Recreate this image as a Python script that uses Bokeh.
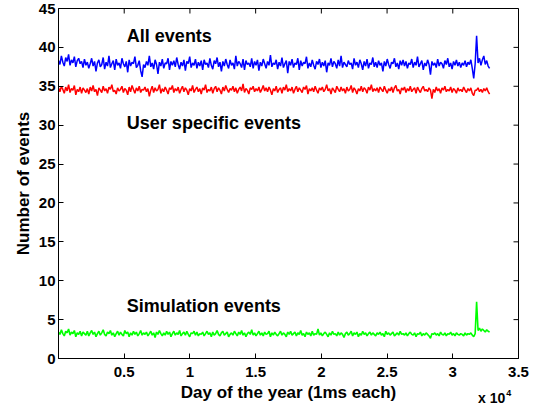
import numpy as np
from bokeh.plotting import figure
from bokeh.models import FixedTicker, Label, Range1d, Div
from bokeh.layouts import column
from bokeh.embed import file_html
from bokeh.resources import INLINE

# ---- data ----
n_samples = 300
last_ms = 32800

all_events = [
    38.3, 37.8, 38.9, 38.1, 37.6, 38.7, 38.2, 39.1, 37.7, 38.4, 38.0, 38.8, 37.5, 38.3, 38.6, 37.9, 38.2, 37.4, 38.5, 37.7,
    38.1, 37.3, 37.9, 38.6, 37.6, 38.2, 36.9, 38.0, 38.4, 37.5, 37.8, 38.7, 37.2, 38.1, 37.6, 38.9, 37.4, 37.9, 38.3, 37.1,
    38.5, 37.7, 38.0, 37.3, 38.6, 37.9, 37.5, 38.2, 36.8, 38.4, 37.6, 38.1, 37.9, 38.8, 37.4, 37.7, 38.3, 37.0, 36.2, 37.8,
    37.4, 38.2, 37.7, 38.9, 37.5, 38.0, 37.2, 38.4, 37.8, 36.6, 38.1, 37.6, 38.5, 37.3, 38.0, 37.9, 38.6, 37.1, 38.2, 37.7,
    38.3, 37.5, 38.7, 37.8, 37.2, 38.1, 37.6, 38.4, 37.0, 38.2, 37.9, 38.8, 37.4, 38.0, 37.7, 38.5, 37.3, 38.1, 37.6, 38.3,
    37.1, 38.4, 37.8, 38.0, 37.4, 38.6, 37.7, 37.2, 38.3, 37.9, 38.7, 37.5, 38.1, 36.9, 38.2, 37.6, 38.5, 37.8, 37.3, 38.4,
    37.7, 38.0, 37.2, 38.9, 37.6, 38.2, 37.9, 37.4, 38.5, 37.1, 38.3, 37.8, 38.0, 37.5, 38.6, 37.3, 38.2, 37.7, 38.4, 37.0,
    38.1, 37.6, 38.5, 37.9, 37.3, 38.2, 37.7, 39.0, 37.5, 38.0, 37.8, 38.4, 37.2, 38.1, 37.6, 38.7, 37.4, 37.9, 38.3, 36.7,
    38.2, 37.7, 38.5, 37.4, 38.0, 37.8, 38.6, 37.1, 38.3, 37.6, 38.1, 37.9, 38.8, 37.3, 38.0, 37.5, 38.4, 37.7, 37.2, 38.2,
    37.8, 38.5, 37.4, 38.1, 37.6, 38.3, 36.8, 38.0, 37.7, 38.6, 37.5, 38.2, 37.9, 37.3, 38.4, 37.6, 38.9, 37.4, 38.1, 37.8,
    37.5, 38.3, 37.8, 38.0, 37.2, 38.6, 37.7, 38.1, 37.4, 38.4, 37.9, 37.1, 38.2, 37.6, 38.5, 37.3, 38.0, 37.8, 38.7, 37.5,
    38.1, 37.4, 38.3, 37.7, 38.0, 36.9, 38.2, 37.6, 38.5, 37.8, 37.3, 38.1, 37.9, 38.6, 37.5, 38.0, 37.2, 38.3, 37.7, 38.4,
    37.6, 38.2, 37.3, 38.0, 37.8, 38.5, 37.4, 38.1, 37.7, 38.8, 37.5, 37.9, 38.3, 37.1, 38.0, 37.6, 38.4, 37.8, 36.5, 38.2,
    37.7, 38.0, 37.4, 38.5, 37.6, 38.1, 37.9, 37.3, 38.3, 37.8, 38.6, 37.5, 38.0, 37.2, 38.2, 37.7, 38.4, 37.6, 38.1, 37.4,
    38.0, 37.7, 38.3, 37.5, 38.1, 37.8, 38.4, 37.3, 36.0, 37.9, 41.5, 38.0, 38.6, 37.7, 38.4, 38.9, 37.8, 38.3, 37.6, 37.3,
]

user_events = [
    34.8, 34.3, 35.0, 34.6, 34.1, 34.9, 34.4, 35.2, 34.2, 34.7, 34.5, 35.1, 33.9, 34.6, 34.3, 34.9, 34.1, 34.8, 34.5, 34.2,
    34.7, 34.0, 34.9, 34.4, 35.1, 34.3, 34.6, 33.8, 34.8, 34.5, 34.2, 35.0, 34.4, 34.7, 34.1, 34.9, 34.6, 35.2, 34.3, 34.5,
    34.0, 34.8, 34.4, 34.6, 35.0, 34.2, 34.7, 34.5, 33.9, 34.9, 34.3, 35.1, 34.6, 34.1, 34.8, 34.4, 35.0, 34.2, 34.6, 34.5,
    34.9, 34.3, 34.7, 33.7, 34.5, 35.0, 34.2, 34.8, 34.4, 34.6, 35.2, 34.1, 34.7, 34.3, 34.9, 34.5, 34.0, 34.8, 34.6, 35.1,
    34.2, 34.7, 34.4, 34.9, 34.1, 34.6, 35.0, 34.3, 34.8, 34.5, 33.9, 34.7, 34.4, 35.1, 34.2, 34.6, 34.9, 34.3, 34.7, 34.0,
    34.8, 34.5, 35.2, 34.2, 34.6, 34.4, 34.9, 34.1, 34.7, 35.0, 34.3, 34.8, 34.5, 34.0, 34.9, 34.4, 35.1, 34.6, 34.2, 34.7,
    34.5, 35.0, 34.3, 34.8, 34.1, 34.6, 34.9, 34.4, 35.3, 34.2, 34.7, 34.5, 34.0, 34.8, 34.6, 35.0, 34.3, 34.7, 34.4, 34.9,
    34.2, 34.6, 35.1, 34.4, 34.8, 34.3, 34.9, 34.5, 33.9, 34.7, 34.4, 35.0, 34.2, 34.6, 34.8, 34.1, 34.9, 34.5, 35.2, 34.3,
    34.7, 34.4, 34.9, 34.1, 34.6, 35.0, 34.3, 34.8, 34.5, 34.2, 34.9, 34.6, 35.1, 34.0, 34.7, 34.4, 34.8, 34.3, 35.0, 34.5,
    34.1, 34.8, 34.5, 34.9, 34.3, 34.6, 35.2, 34.4, 34.7, 34.0, 34.8, 34.5, 34.2, 35.0, 34.6, 34.3, 34.9, 34.4, 34.7, 34.1,
    34.9, 34.4, 34.6, 35.1, 34.2, 34.8, 34.5, 34.0, 34.7, 34.4, 35.0, 34.3, 34.8, 34.6, 34.1, 34.9, 34.5, 35.2, 34.3, 34.7,
    34.4, 34.8, 34.2, 34.9, 34.6, 34.3, 35.0, 34.5, 34.1, 34.7, 34.4, 34.9, 34.2, 34.8, 35.1, 34.4, 34.6, 34.0, 34.8, 34.5,
    34.9, 34.2, 34.7, 34.4, 35.0, 34.3, 34.6, 34.8, 34.1, 34.9, 34.5, 34.2, 34.7, 35.0, 34.4, 34.6, 34.3, 34.8, 34.5, 33.4,
    34.6, 34.2, 34.9, 34.4, 34.7, 34.1, 34.8, 34.5, 35.0, 34.3, 34.6, 34.4, 34.9, 34.2, 34.7, 34.5, 34.1, 34.8, 34.4, 34.6,
    34.3, 34.9, 34.5, 34.2, 34.7, 34.4, 34.8, 34.1, 33.8, 34.5, 34.5, 34.8, 34.3, 34.6, 34.2, 34.7, 34.4, 34.8, 34.3, 34.0,
]

sim_events = [
    3.4, 3.1, 3.7, 3.2, 2.9, 3.5, 3.3, 3.8, 3.0, 3.4, 3.2, 3.6, 2.8, 3.3, 3.1, 3.5, 2.9, 3.4, 3.2, 3.0,
    3.5, 2.9, 3.3, 3.6, 3.1, 3.4, 2.8, 3.2, 3.5, 3.0, 3.3, 3.7, 3.1, 2.9, 3.4, 3.2, 3.6, 3.0, 3.3, 2.8,
    3.2, 3.5, 3.0, 3.4, 3.1, 2.9, 3.6, 3.2, 3.4, 2.8, 3.3, 3.0, 3.5, 3.1, 3.4, 2.9, 3.2, 3.6, 3.0, 3.3,
    3.1, 3.4, 2.9, 3.2, 3.5, 3.0, 3.3, 2.7, 3.4, 3.1, 3.6, 3.2, 2.9, 3.3, 3.0, 3.5, 3.1, 3.4, 2.8, 3.2,
    3.5, 3.0, 3.3, 3.1, 3.6, 2.9, 3.2, 3.4, 3.0, 3.5, 3.1, 2.8, 3.3, 3.2, 3.5, 3.0, 3.4, 2.9, 3.2, 3.1,
    3.4, 2.9, 3.2, 3.5, 3.1, 3.3, 2.8, 3.4, 3.0, 3.2, 3.6, 3.1, 2.9, 3.3, 3.5, 3.0, 3.2, 3.4, 2.8, 3.1,
    3.3, 3.0, 3.5, 3.2, 2.9, 3.4, 3.1, 3.6, 3.0, 3.3, 2.8, 3.2, 3.4, 3.1, 3.7, 3.0, 3.3, 2.9, 3.2, 3.5,
    3.0, 3.3, 2.9, 3.4, 3.1, 3.2, 3.5, 2.8, 3.3, 3.0, 3.4, 3.1, 2.9, 3.2, 3.5, 3.0, 3.3, 3.1, 2.8, 3.4,
    3.1, 3.5, 3.0, 3.2, 3.4, 2.9, 3.3, 3.1, 3.6, 3.0, 3.2, 2.8, 3.4, 3.1, 3.3, 2.9, 3.5, 3.0, 3.2, 3.1,
    3.8, 3.0, 3.3, 2.9, 3.2, 3.4, 3.1, 2.8, 3.3, 3.0, 3.5, 3.1, 3.2, 2.9, 3.4, 3.0, 3.3, 3.1, 2.7, 3.2,
    3.4, 3.0, 3.2, 3.5, 2.9, 3.3, 3.1, 3.4, 2.8, 3.2, 3.0, 3.5, 3.1, 3.3, 2.9, 3.2, 3.4, 3.0, 3.3, 3.1,
    2.9, 3.3, 3.1, 3.4, 3.0, 3.2, 2.8, 3.5, 3.1, 3.3, 3.0, 3.2, 3.4, 2.9, 3.1, 3.3, 3.0, 3.5, 3.1, 3.2,
    3.0, 3.3, 2.9, 3.2, 3.4, 3.1, 3.0, 3.3, 2.8, 3.2, 3.1, 3.4, 2.9, 3.2, 3.0, 3.3, 3.1, 2.9, 2.6, 3.2,
    3.1, 3.3, 3.0, 3.2, 2.9, 3.4, 3.1, 3.0, 3.3, 2.9, 3.2, 3.1, 3.4, 3.0, 3.2, 2.9, 3.3, 3.1, 3.0, 3.2,
    3.1, 2.9, 3.3, 3.0, 3.2, 3.1, 3.3, 3.0, 2.8, 3.2, 7.3, 3.6, 3.9, 3.5, 3.8, 3.6, 3.4, 3.7, 3.5, 3.4,
]

x_max = 35000
y_max = 45
x_ticks = [5000, 10000, 15000, 20000, 25000, 30000, 35000]
x_tick_labels = ["0.5", "1", "1.5", "2", "2.5", "3", "3.5"]
y_ticks = [0, 5, 10, 15, 20, 25, 30, 35, 40, 45]
x_exponent = "4"

series_labels = ["All events", "User specific events", "Simulation events"]
label_x = [5200, 5200, 5200]
label_y = [41.5, 30.3, 6.7]

x = np.linspace(0, last_ms, n_samples)

FONT = "Liberation Sans"

p = figure(width=535, height=409, output_backend="svg", toolbar_location=None,
           x_range=Range1d(0, x_max), y_range=Range1d(0, y_max),
           min_border_left=58, min_border_right=17, min_border_top=8, min_border_bottom=51)
p.background_fill_color = "white"
p.border_fill_color = "white"
p.outline_line_color = "black"
p.outline_line_width = 1
p.outline_line_alpha = 1
p.xgrid.visible = False
p.ygrid.visible = False

p.line(x, all_events, line_color="#0000FF", line_width=1.5)
p.line(x, user_events, line_color="#FF0000", line_width=1.5)
p.line(x, sim_events, line_color="#00FF00", line_width=1.6)

# inward tick marks on the top and right edges of the box
tick_len_x = 5 / 460 * x_max   # 5 px in data units
tick_len_y = 5 / 350 * y_max
p.segment(x0=x_ticks, y0=[y_max] * len(x_ticks), x1=x_ticks, y1=[y_max - tick_len_y] * len(x_ticks),
          line_color="black", line_width=1)
p.segment(x0=[x_max] * len(y_ticks), y0=y_ticks, x1=[x_max - tick_len_x] * len(y_ticks), y1=y_ticks,
          line_color="black", line_width=1)

def style_axis(ax):
    ax.major_tick_in = 5
    ax.major_tick_out = 0
    ax.minor_tick_in = 0
    ax.minor_tick_out = 0
    ax.axis_line_color = "black"
    ax.major_tick_line_color = "black"
    ax.major_label_text_font = FONT
    ax.major_label_text_font_style = "bold"
    ax.major_label_text_color = "black"
    ax.major_label_text_font_size = "15px"
    ax.axis_label_text_font = FONT
    ax.axis_label_text_font_style = "bold"
    ax.axis_label_text_color = "black"
    ax.axis_label_text_font_size = "17px"

xa = p.xaxis[0]
xa.ticker = FixedTicker(ticks=x_ticks)
xa.major_label_overrides = {t: l for t, l in zip(x_ticks, x_tick_labels)}
xa.axis_label = "Day of the year (1ms each)"
xa.major_label_standoff = 8
xa.axis_label_standoff = 3
style_axis(xa)

ya = p.yaxis[0]
ya.ticker = FixedTicker(ticks=y_ticks)
ya.axis_label = "Number of events"
ya.major_label_standoff = 3
ya.axis_label_standoff = 3
style_axis(ya)

for txt, lx, ly in zip(series_labels, label_x, label_y):
    p.add_layout(Label(x=lx, y=ly, text=txt, text_font=FONT, text_font_style="bold",
                       text_font_size="18px", text_color="black",
                       text_baseline="middle", text_align="left"))

# axis multiplier "x 10^4" below the right end of the x axis
mult = Div(text=f'x 10<span style="font-size:9px;position:relative;top:-7px;left:1px">{x_exponent}</span>',
           width=50, height=14, margin=(-18, 0, 0, 478),
           styles={"font-family": FONT, "font-weight": "bold", "font-size": "14px",
                   "line-height": "14px", "color": "black", "white-space": "nowrap"})

layout = column(p, mult, spacing=0)
open("out.html", "w").write(file_html(layout, INLINE))
